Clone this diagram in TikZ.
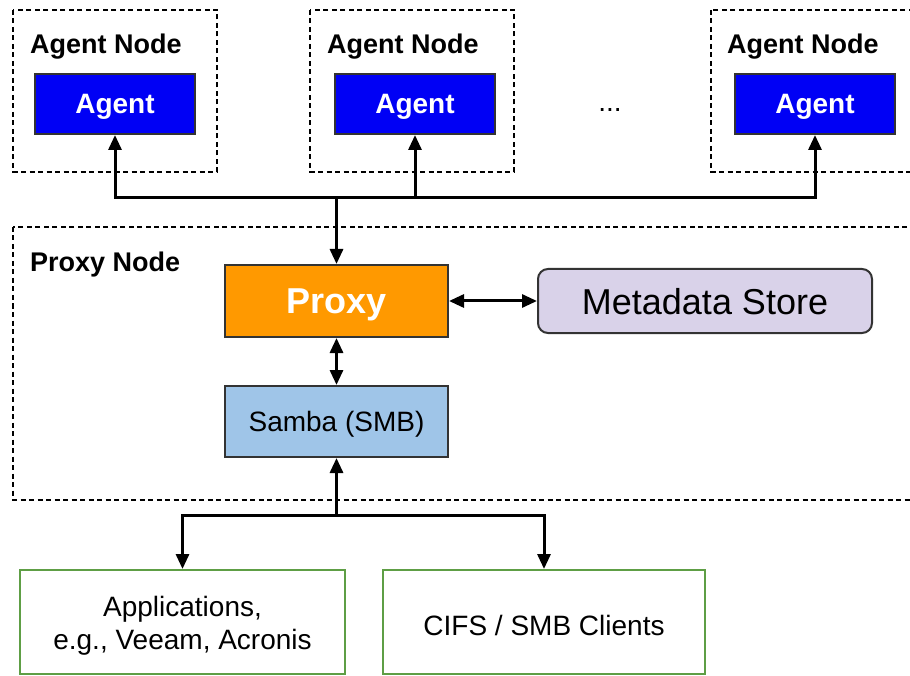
\documentclass[tikz,border=0pt]{standalone}
\usepackage{fontspec}
\setmainfont{Liberation Sans}
\usetikzlibrary{arrows.meta}
\definecolor{agentblue}{HTML}{0000F5}
\definecolor{proxyorange}{HTML}{FF9900}
\definecolor{metalav}{HTML}{D9D2E9}
\definecolor{sambablue}{HTML}{9FC5E8}
\definecolor{clientgreen}{HTML}{5E9E45}
\tikzset{
  hostbox/.style={draw=black, line width=1.4pt, dash pattern=on 5pt off 3.5pt},
  agentbox/.style={draw=black!80, line width=2pt, fill=agentblue, minimum width=160pt, minimum height=60pt, inner sep=0pt,
    text depth=0pt, text=white, font=\fontsize{28}{32}\selectfont\bfseries},
  hostlabel/.style={anchor=west, inner sep=0pt, text depth=0pt, font=\fontsize{27}{32}\selectfont\bfseries},
  proxybox/.style={draw=black!80, line width=2pt, fill=proxyorange, minimum width=223pt, minimum height=72pt, inner sep=0pt,
    text depth=0pt, text=white, font=\fontsize{36}{40}\selectfont\bfseries},
  metabox/.style={draw=black!80, line width=2pt, fill=metalav, rounded corners=10pt, minimum width=334pt, minimum height=64pt, inner sep=0pt,
    text depth=0pt, font=\fontsize{36}{40}\selectfont},
  sambabox/.style={draw=black!80, line width=2pt, fill=sambablue, minimum width=223pt, minimum height=71pt, inner sep=0pt,
    text depth=0pt, font=\fontsize{28}{32}\selectfont},
  clientbox/.style={draw=clientgreen, line width=2pt, fill=white, inner sep=0pt, minimum height=104pt},
  clienttext/.style={inner sep=0pt, align=center, font=\fontsize{28}{33}\selectfont},
  conn/.style={draw=black, line width=3pt},
  arr/.style={conn, -{Triangle[length=15pt, width=13pt]}},
  darr/.style={conn, {Triangle[length=15pt, width=13pt]}-{Triangle[length=15pt, width=13pt]}},
}
\begin{document}
\begin{tikzpicture}[x=1pt, y=-1pt]
\useasboundingbox (0,0) rectangle (910,676);
\clip (0,0) rectangle (910,676);
\fill[white] (0,0) rectangle (910,676);

% host boxes
\draw[hostbox] (13,10) rectangle (217,172);
\draw[hostbox] (310,10) rectangle (514,172);
\draw[hostbox] (711,10) rectangle (918,172);
\draw[hostbox] (13,227) rectangle (918,500);

\node[hostlabel] (l1) at (30,44) {Agent Node};
\node[hostlabel] (l2) at (327,44) {Agent Node};
\node[hostlabel] (l3) at (727,44) {Agent Node};
\node[hostlabel] (lp) at (30,262) {Proxy Node};

\node[agentbox] (a1) at (115,104) {Agent};
\node[agentbox] (a2) at (415,104) {Agent};
\node[agentbox] (a3) at (815,104) {Agent};
\node[font=\fontsize{28}{32}\selectfont, inner sep=0pt, anchor=base] (dots) at (610,112) {...};

\node[proxybox] (proxy) at (336.5,301) {Proxy};
\node[metabox] (meta) at (705,301) {Metadata Store};
\node[sambabox] (samba) at (336.5,421.5) {Samba (SMB)};

\node[clientbox, minimum width=325pt] (apps) at (182.5,622) {};
\node[clienttext] (appst) at (182.5,626) {Applications,\\e.g., Veeam, Acronis};
\node[clientbox, minimum width=322pt] (cifs) at (544,622) {};
\node[clienttext, text depth=0pt] (cifst) at (544,625) {CIFS / SMB Clients};

% top bus
\coordinate (bus) at (336.5,198);
\draw[arr] (bus) -| (a1.south);
\draw[arr] (bus) -| (a2.south);
\draw[arr] (bus) -| (a3.south);
\draw[arr] (bus) -- (proxy.north);

\draw[darr] (proxy.east) -- (meta.west);
\draw[darr] (proxy.south) -- (samba.north);

% bottom branch
\coordinate (low) at (336.5,515);
\draw[arr] (low) -- (samba.south);
\draw[arr] (low) -| (apps.north);
\draw[arr] (low) -| (cifs.north);
\end{tikzpicture}
\end{document}
